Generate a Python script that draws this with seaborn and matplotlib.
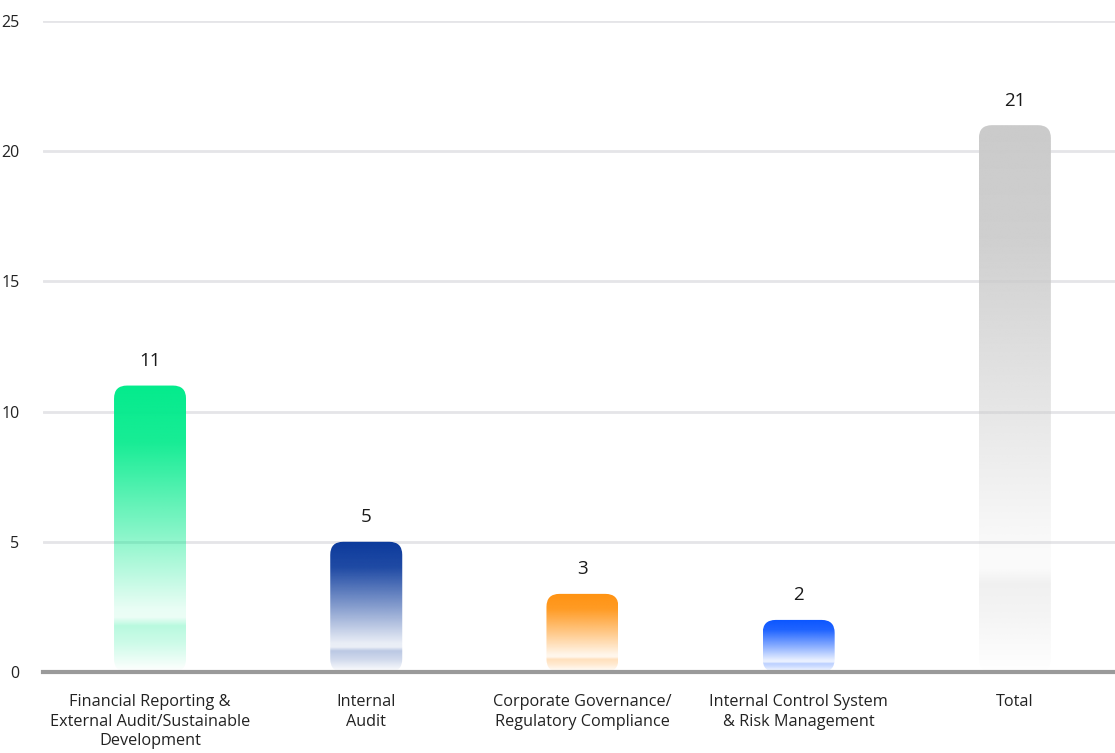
import matplotlib
matplotlib.use('Agg')
import matplotlib.pyplot as plt
import seaborn as sns
import numpy as np
import pandas as pd
from matplotlib.colors import to_rgb
from matplotlib.patches import FancyBboxPatch

categories = ['Financial Reporting &\nExternal Audit/Sustainable\nDevelopment',
              'Internal\nAudit',
              'Corporate Governance/\nRegulatory Compliance',
              'Internal Control System\n& Risk Management',
              'Total']
values = [11, 5, 3, 2, 21]
colors = ['#03eb8c', '#0b3a9c', '#ff9210', '#0a55ff', '#cbcbcb']
yticks = [0, 5, 10, 15, 20, 25]

sns.set_style('white')
plt.rcParams['font.family'] = ['Open Sans', 'DejaVu Sans']

fig = plt.figure(figsize=(11.15, 7.53), dpi=100)
ax = fig.add_axes([43 / 1115, 81 / 753, 1 - 43 / 1115, 651 / 753])

df = pd.DataFrame({'cat': categories, 'val': values})
sns.barplot(data=df, x='cat', y='val', width=0.333, color='white', ax=ax, zorder=2)

xlim = (-0.495, 4.463)
ylim = (0, 25)

# alpha profile, top of bar -> bottom of bar
t_pts = [0.0, 0.2, 0.5, 0.78, 0.81, 0.84, 0.9, 1.0]
a_pts = [1.0, 0.92, 0.5, 0.09, 0.08, 0.28, 0.2, 0.0]
t = np.linspace(0, 1, 300)
alpha = np.interp(t, t_pts, a_pts)[::-1]  # row 0 = bottom

px_x = 1072 / (xlim[1] - xlim[0])
px_y = 651 / (ylim[1] - ylim[0])
r = 13 / px_x

for bar, col, v in zip(ax.patches, colors, values):
    bar.set_visible(False)
    x0, w, h = bar.get_x(), bar.get_width(), bar.get_height()
    clip = FancyBboxPatch((x0, 0), w, h,
                          boxstyle=f'round,pad=0,rounding_size={r}',
                          mutation_aspect=px_x / px_y,
                          facecolor='none', edgecolor='none', transform=ax.transData)
    ax.add_patch(clip)
    rgba = np.zeros((len(alpha), 1, 4))
    rgba[:, 0, :3] = to_rgb(col)
    rgba[:, 0, 3] = alpha
    im = ax.imshow(rgba, extent=(x0, x0 + w, 0, h), origin='lower',
                   aspect='auto', interpolation='bilinear', zorder=2)
    im.set_clip_path(clip)
    ax.text(x0 + w / 2, v + 0.6, str(v), ha='center', va='bottom',
            fontsize=13.5, color='#1a1a1a')

ax.set_xlim(*xlim)
ax.set_ylim(*ylim)
ax.set_yticks(yticks)
ax.yaxis.grid(True, color='#e5e5e8', linewidth=2)
ax.set_axisbelow(True)
for s in ['top', 'right', 'left']:
    ax.spines[s].set_visible(False)
ax.spines['bottom'].set_color('#9a9a9a')
ax.spines['bottom'].set_linewidth(3)
ax.spines['bottom'].set_zorder(3)
ax.tick_params(axis='y', length=0, pad=17, labelsize=11.5, labelcolor='#222222')
ax.tick_params(axis='x', length=0, pad=16, labelsize=11.7, labelcolor='#222222')
for lbl in ax.get_xticklabels():
    lbl.set_linespacing(1.3)
ax.set_xlabel('')
ax.set_ylabel('')

fig.savefig('out.png', dpi=100)
